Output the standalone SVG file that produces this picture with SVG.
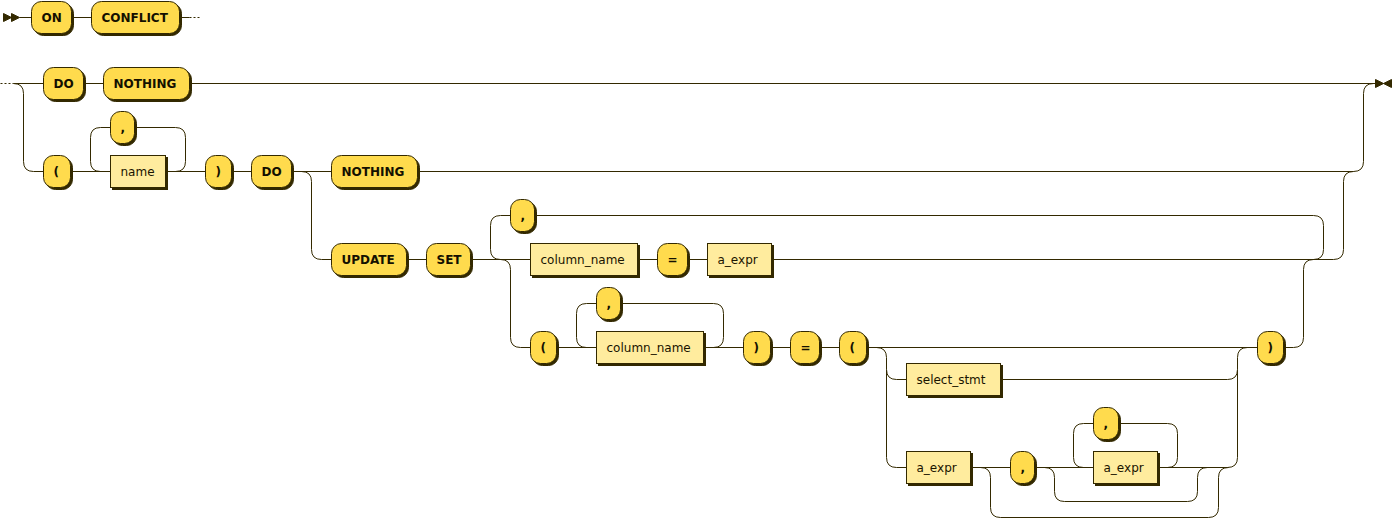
<svg xmlns="http://www.w3.org/2000/svg" width="1393" height="519" viewBox="0 0 1393 519">
  <style>
    .line { fill: none; stroke: #332900; stroke-width: 1; }
    .dots { fill: none; stroke: #332900; stroke-width: 1; stroke-dasharray: 2 2; }
    .arrow { fill: #332900; stroke: #332900; stroke-width: 1; }
    .shadow { fill: #332900; stroke: #332900; stroke-width: 1; }
    rect.terminal { fill: #FFDB4D; stroke: #332900; stroke-width: 1; }
    rect.nonterminal { fill: #FFEC9E; stroke: #332900; stroke-width: 1; }
    text.terminal { font-family: "DejaVu Sans", Verdana, sans-serif; font-size: 12px; font-weight: bold; fill: #141000; }
    text.nonterminal { font-family: "DejaVu Sans", Verdana, sans-serif; font-size: 12px; font-weight: normal; fill: #1A1400; }
  </style>

  <g transform="translate(0.5 0.5)">
  <!-- rails -->
  <g id="connectors">
    <polygon class="arrow" points="11 17 3 13 3 21"/>
    <polygon class="arrow" points="19 17 11 13 11 21"/>
    <path class="line" d="M19 17 H31 M71 17 H91 M179 17 H189"/>
    <path class="dots" d="M189 17 H201"/>

    <path class="dots" d="M0 83 H13"/>
    <path class="line" d="M13 83 H43 M83 83 H103 M189 83 H1375"/>
    <path class="line" d="M13 83 q10 0 10 10 V161 q0 10 10 10 H43"/>
    <path class="line" d="M70 171 H110 M165 171 H205 M231 171 H251 M291 171 H331 M417 171 H1353"/>
    <path class="line" d="M100 171 q-10 0 -10 -10 V137 q0 -10 10 -10 H110 M134 127 H175 q10 0 10 10 V161 q0 10 -10 10"/>
    <path class="line" d="M1353 171 q10 0 10 -10 V93 q0 -10 10 -10"/>

    <path class="line" d="M301 171 q10 0 10 10 V249 q0 10 10 10 H331"/>
    <path class="line" d="M406 259 H426 M470 259 H530 M637 259 H657 M687 259 H707 M771 259 H1333 q10 0 10 -10 V181 q0 -10 10 -10"/>
    <path class="line" d="M500 259 q-10 0 -10 -10 V225 q0 -10 10 -10 H510 M534 215 H1313 q10 0 10 10 V249 q0 10 -10 10"/>
    <path class="line" d="M500 259 q10 0 10 10 V337 q0 10 10 10 H530"/>

    <path class="line" d="M556 347 H596 M703 347 H743 M770 347 H790 M819 347 H839 M866 347 H1257 M1283 347 H1293 q10 0 10 -10 V269 q0 -10 10 -10"/>
    <path class="line" d="M586 347 q-10 0 -10 -10 V313 q0 -10 10 -10 H596 M620 303 H713 q10 0 10 10 V337 q0 10 -10 10"/>

    <path class="line" d="M876 347 q10 0 10 10 V369 q0 10 10 10 H906 M1000 379 H1227 q10 0 10 -10 V357 q0 -10 10 -10"/>
    <path class="line" d="M886 369 V457 q0 10 10 10 H906 M970 467 H1010 M1034 467 H1093 M1157 467 H1227 q10 0 10 -10 V369"/>
    <path class="line" d="M980 467 q10 0 10 10 V507 q0 10 10 10 H1208 q10 0 10 -10 V477 q0 -10 10 -10"/>
    <path class="line" d="M1044 467 q10 0 10 10 V491 q0 10 10 10 H1187 q10 0 10 -10 V477 q0 -10 10 -10"/>
    <path class="line" d="M1083 467 q-10 0 -10 -10 V433 q0 -10 10 -10 H1093 M1118 423 H1167 q10 0 10 10 V457 q0 10 -10 10"/>

    <polygon class="arrow" points="1383 83 1375 79 1375 87"/>
    <polygon class="arrow" points="1383 83 1391 79 1391 87"/>
  </g>

  <!-- terminals and nonterminals -->
  <g id="t-on"><rect class="shadow" x="33" y="3" width="40" height="32" rx="10"/><rect class="terminal" x="31" y="1" width="40" height="32" rx="10"/><text class="terminal" x="41" y="21">ON</text></g>
  <g id="t-conflict"><rect class="shadow" x="93" y="3" width="88" height="32" rx="10"/><rect class="terminal" x="91" y="1" width="88" height="32" rx="10"/><text class="terminal" x="101" y="21">CONFLICT</text></g>

  <g id="t-do-1"><rect class="shadow" x="45" y="69" width="40" height="32" rx="10"/><rect class="terminal" x="43" y="67" width="40" height="32" rx="10"/><text class="terminal" x="53" y="87">DO</text></g>
  <g id="t-nothing-1"><rect class="shadow" x="105" y="69" width="86" height="32" rx="10"/><rect class="terminal" x="103" y="67" width="86" height="32" rx="10"/><text class="terminal" x="113" y="87">NOTHING</text></g>

  <g id="t-lparen-1"><rect class="shadow" x="45" y="157" width="27" height="32" rx="10"/><rect class="terminal" x="43" y="155" width="27" height="32" rx="10"/><text class="terminal" x="53" y="175">(</text></g>
  <g id="t-comma-1"><rect class="shadow" x="112" y="113" width="24" height="32" rx="10"/><rect class="terminal" x="110" y="111" width="24" height="32" rx="10"/><text class="terminal" x="120" y="131">,</text></g>
  <g id="nt-name"><rect class="shadow" x="112" y="157" width="55" height="32"/><rect class="nonterminal" x="110" y="155" width="55" height="32"/><text class="nonterminal" x="120" y="175">name</text></g>
  <g id="t-rparen-1"><rect class="shadow" x="207" y="157" width="26" height="32" rx="10"/><rect class="terminal" x="205" y="155" width="26" height="32" rx="10"/><text class="terminal" x="215" y="175">)</text></g>
  <g id="t-do-2"><rect class="shadow" x="253" y="157" width="40" height="32" rx="10"/><rect class="terminal" x="251" y="155" width="40" height="32" rx="10"/><text class="terminal" x="261" y="175">DO</text></g>
  <g id="t-nothing-2"><rect class="shadow" x="333" y="157" width="86" height="32" rx="10"/><rect class="terminal" x="331" y="155" width="86" height="32" rx="10"/><text class="terminal" x="341" y="175">NOTHING</text></g>

  <g id="t-update"><rect class="shadow" x="333" y="245" width="75" height="32" rx="10"/><rect class="terminal" x="331" y="243" width="75" height="32" rx="10"/><text class="terminal" x="341" y="263">UPDATE</text></g>
  <g id="t-set"><rect class="shadow" x="428" y="245" width="44" height="32" rx="10"/><rect class="terminal" x="426" y="243" width="44" height="32" rx="10"/><text class="terminal" x="436" y="263">SET</text></g>
  <g id="t-comma-2"><rect class="shadow" x="512" y="201" width="24" height="32" rx="10"/><rect class="terminal" x="510" y="199" width="24" height="32" rx="10"/><text class="terminal" x="520" y="219">,</text></g>
  <g id="nt-column-name-1"><rect class="shadow" x="532" y="245" width="107" height="32"/><rect class="nonterminal" x="530" y="243" width="107" height="32"/><text class="nonterminal" x="540" y="263">column_name</text></g>
  <g id="t-eq-1"><rect class="shadow" x="659" y="245" width="30" height="32" rx="10"/><rect class="terminal" x="657" y="243" width="30" height="32" rx="10"/><text class="terminal" x="667" y="263">=</text></g>
  <g id="nt-a-expr-1"><rect class="shadow" x="709" y="245" width="64" height="32"/><rect class="nonterminal" x="707" y="243" width="64" height="32"/><text class="nonterminal" x="717" y="263">a_expr</text></g>

  <g id="t-lparen-2"><rect class="shadow" x="532" y="333" width="26" height="32" rx="10"/><rect class="terminal" x="530" y="331" width="26" height="32" rx="10"/><text class="terminal" x="540" y="351">(</text></g>
  <g id="t-comma-3"><rect class="shadow" x="598" y="289" width="24" height="32" rx="10"/><rect class="terminal" x="596" y="287" width="24" height="32" rx="10"/><text class="terminal" x="606" y="307">,</text></g>
  <g id="nt-column-name-2"><rect class="shadow" x="598" y="333" width="107" height="32"/><rect class="nonterminal" x="596" y="331" width="107" height="32"/><text class="nonterminal" x="606" y="351">column_name</text></g>
  <g id="t-rparen-2"><rect class="shadow" x="745" y="333" width="27" height="32" rx="10"/><rect class="terminal" x="743" y="331" width="27" height="32" rx="10"/><text class="terminal" x="753" y="351">)</text></g>
  <g id="t-eq-2"><rect class="shadow" x="792" y="333" width="29" height="32" rx="10"/><rect class="terminal" x="790" y="331" width="29" height="32" rx="10"/><text class="terminal" x="800" y="351">=</text></g>
  <g id="t-lparen-3"><rect class="shadow" x="841" y="333" width="27" height="32" rx="10"/><rect class="terminal" x="839" y="331" width="27" height="32" rx="10"/><text class="terminal" x="849" y="351">(</text></g>

  <g id="nt-select-stmt"><rect class="shadow" x="908" y="365" width="94" height="32"/><rect class="nonterminal" x="906" y="363" width="94" height="32"/><text class="nonterminal" x="916" y="383">select_stmt</text></g>
  <g id="nt-a-expr-2"><rect class="shadow" x="908" y="453" width="64" height="32"/><rect class="nonterminal" x="906" y="451" width="64" height="32"/><text class="nonterminal" x="916" y="471">a_expr</text></g>
  <g id="t-comma-4"><rect class="shadow" x="1012" y="453" width="24" height="32" rx="10"/><rect class="terminal" x="1010" y="451" width="24" height="32" rx="10"/><text class="terminal" x="1020" y="471">,</text></g>
  <g id="t-comma-5"><rect class="shadow" x="1095" y="409" width="25" height="32" rx="10"/><rect class="terminal" x="1093" y="407" width="25" height="32" rx="10"/><text class="terminal" x="1103" y="427">,</text></g>
  <g id="nt-a-expr-3"><rect class="shadow" x="1095" y="453" width="64" height="32"/><rect class="nonterminal" x="1093" y="451" width="64" height="32"/><text class="nonterminal" x="1103" y="471">a_expr</text></g>
  <g id="t-rparen-3"><rect class="shadow" x="1259" y="333" width="26" height="32" rx="10"/><rect class="terminal" x="1257" y="331" width="26" height="32" rx="10"/><text class="terminal" x="1267" y="351">)</text></g>
  </g>
</svg>
